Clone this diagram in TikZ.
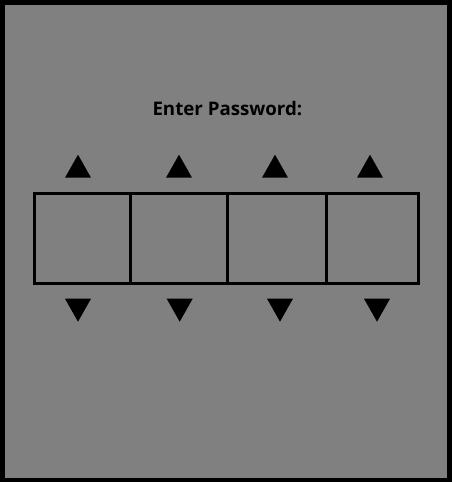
\documentclass[tikz,border=0pt]{standalone}
\usepackage{fontspec}
\setmainfont{Open Sans}
\tikzset{
  cell/.style={line width=3pt},
  arrowup/.style={fill=black},
  arrowdown/.style={fill=black}
}
\begin{document}
\begin{tikzpicture}[x=1pt,y=-1pt]
\useasboundingbox (0,0) rectangle (452,482);
\fill[black] (0,0) rectangle (452,482);
\fill[gray] (5,5) rectangle (447,478);
%
\node[anchor=base,inner sep=0pt,font=\bfseries\fontsize{18.7}{21}\selectfont] (title) at (227.4,115.7) {Enter Password:};
%
\draw[cell] (34,193.5) rectangle (418,283);
\draw[cell] (130,193.5) -- (130,283);
\draw[cell] (227,193.5) -- (227,283);
\draw[cell] (326.7,193.5) -- (326.7,283);
%
\fill[arrowup] (65,177.7) -- (78,154.7) -- (91,177.7) -- cycle;
\fill[arrowup] (166,177.7) -- (179,154.7) -- (192,177.7) -- cycle;
\fill[arrowup] (262,177.7) -- (275,154.7) -- (288,177.7) -- cycle;
\fill[arrowup] (357,177.7) -- (370,154.7) -- (383,177.7) -- cycle;
%
\fill[arrowdown] (65,298.7) -- (78,321.7) -- (91,298.7) -- cycle;
\fill[arrowdown] (166.7,298.7) -- (179.7,321.7) -- (192.7,298.7) -- cycle;
\fill[arrowdown] (267,298.7) -- (280,321.7) -- (293,298.7) -- cycle;
\fill[arrowdown] (364,298.7) -- (377,321.7) -- (390,298.7) -- cycle;
%
\end{tikzpicture}
\end{document}
